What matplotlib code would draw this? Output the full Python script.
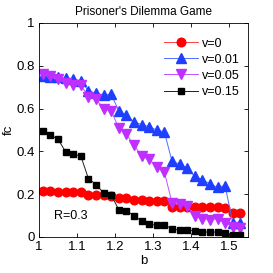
import numpy as np
import matplotlib
matplotlib.use("Agg")
import matplotlib.pyplot as plt

plt.rcParams["font.family"] = ["Liberation Sans", "DejaVu Sans"]

b = [1.01 + 0.02 * k for k in range(27)]

fc_v0 = [0.214, 0.214, 0.212, 0.212, 0.209, 0.208, 0.195, 0.195, 0.198, 0.190,
         0.180, 0.180, 0.173, 0.172, 0.168, 0.168, 0.167, 0.142, 0.142, 0.141,
         0.141, 0.141, 0.141, 0.140, 0.137, 0.112, 0.112]
fc_v001 = [0.752, 0.749, 0.746, 0.741, 0.736, 0.730, 0.683, 0.671, 0.663, 0.666,
           0.590, 0.569, 0.538, 0.525, 0.516, 0.499, 0.491, 0.355, 0.340, 0.322,
           0.283, 0.268, 0.248, 0.232, 0.240, 0.066, 0.066]
fc_v005 = [0.760, 0.750, 0.736, 0.720, 0.712, 0.710, 0.655, 0.643, 0.600, 0.588,
           0.510, 0.480, 0.430, 0.378, 0.362, 0.327, 0.304, 0.161, 0.152, 0.145,
           0.097, 0.086, 0.081, 0.086, 0.066, 0.047, 0.044]
fc_v015 = [0.496, 0.476, 0.457, 0.398, 0.387, 0.378, 0.273, 0.245, 0.206, 0.195,
           0.128, 0.122, 0.100, 0.075, 0.059, 0.055, 0.055, 0.039, 0.031, 0.034,
           0.028, 0.023, 0.023, 0.023, 0.020, 0.011, 0.011]

fig = plt.figure(figsize=(2.73, 2.73), dpi=100)
ax = fig.add_axes([0.143, 0.132, 0.765, 0.784])

ax.plot(b, fc_v0, color="#ff4040", lw=0.7, marker="o", ms=6.2,
        mfc="#ff0000", mec="#ff0000", label="v=0")
ax.plot(b, fc_v001, color="#4f6fff", lw=0.7, marker="^", ms=6.5,
        mfc="#1f3fff", mec="#1f3fff", label="v=0.01")
ax.plot(b, fc_v005, color="#c050ff", lw=0.7, marker="v", ms=6.5,
        mfc="#bf2fff", mec="#bf2fff", label="v=0.05")
ax.plot(b, fc_v015, color="#202020", lw=0.7, marker="s", ms=4.5,
        mfc="black", mec="black", label="v=0.15")

ax.set_xlim(1, 1.55)
ax.set_ylim(0, 1)
ax.set_xticks([1, 1.1, 1.2, 1.3, 1.4, 1.5])
ax.set_xticklabels(["1", "1.1", "1.2", "1.3", "1.4", "1.5"])
ax.set_yticks([0, 0.2, 0.4, 0.6, 0.8, 1])
ax.set_yticklabels(["0", "0.2", "0.4", "0.6", "0.8", "1"])
ax.tick_params(direction="in", length=3, width=0.6, top=True, right=True,
               labelsize=9.5, pad=3)
for s in ax.spines.values():
    s.set_linewidth(0.6)

ax.set_title("Prisoner's Dilemma Game", fontsize=8.5, pad=6)
ax.set_xlabel("b", fontsize=9.5, labelpad=1)
ax.set_ylabel("fc", fontsize=9.5, labelpad=1)
ax.text(1.04, 0.1, "R=0.3", fontsize=9, va="center")

ax.legend(loc="upper right", bbox_to_anchor=(0.985, 0.955), frameon=False,
          fontsize=9, handlelength=2.7, handletextpad=0.3, labelspacing=0.33,
          borderaxespad=0)

fig.savefig("out.png", dpi=100)
